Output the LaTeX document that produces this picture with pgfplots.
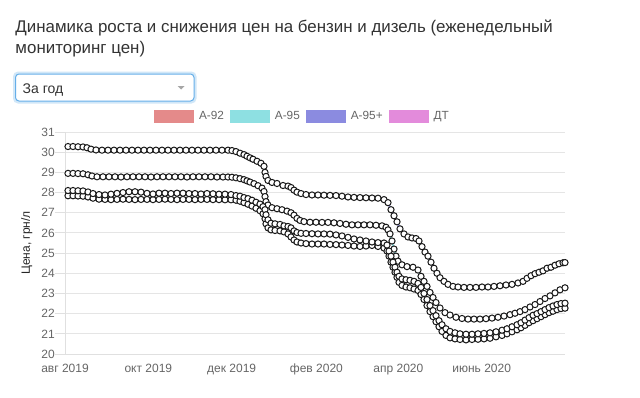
\documentclass[border=0pt]{standalone}
\usepackage{fontspec}
\setmainfont{Liberation Sans}
\usepackage{pgfplots}
\pgfplotsset{compat=1.18}
\definecolor{c92}{HTML}{E48A8A}
\definecolor{c95}{HTML}{8EE0E2}
\definecolor{c95p}{HTML}{8B8BE0}
\definecolor{cdt}{HTML}{E38BDB}
\definecolor{tgray}{HTML}{666666}
\definecolor{tdark}{HTML}{333333}
\definecolor{focus}{HTML}{66AFE9}
\begin{document}
\begin{tikzpicture}[x=1bp,y=1bp]
\path[use as bounding box] (0,0) rectangle (640,397);
\fill[white] (0,0) rectangle (640,397);
% title
\node[anchor=base west, inner sep=0, text=tdark, font=\fontsize{16.9bp}{19bp}\selectfont] at (15.3,364.5) {Динамика роста и снижения цен на бензин и дизель (еженедельный};
\node[anchor=base west, inner sep=0, text=tdark, font=\fontsize{16.9bp}{19bp}\selectfont] at (15.3,343.5) {мониторинг цен)};
% dropdown
\fill[focus!30, rounded corners=5bp] (13,293.5) rectangle (196.5,325.5);
\filldraw[fill=white, draw=focus, line width=1bp, rounded corners=3.5bp] (15.5,296) rectangle (194,323);
\node[anchor=base west, inner sep=0, text=tdark, font=\fontsize{14bp}{16bp}\selectfont] at (22.5,304) {За год};
\fill[black!35] (177.5,311) -- (184.5,311) -- (181,307.5) -- cycle;
\begin{axis}[
  at={(65bp,43bp)}, anchor=south west,
  scale only axis, width=500bp, height=222bp,
  xmin=65, xmax=565, ymin=20, ymax=31,
  clip=false,
  axis lines*=left,
  axis line style={-, draw=black!12, line width=1bp},
  ymajorgrids, grid style={draw=black!10, line width=1bp},
  ytick={20,21,...,31},
  tick align=outside,
  ytick style={draw=black!12, line width=1bp},
  major tick length=10bp,
  xtick={65,148.33,231.67,316.39,398.36,481.69},
  xticklabels={авг 2019,окт 2019,дек 2019,фев 2020,апр 2020,июнь 2020},
  xtick style={draw=none},
  xticklabel style={font=\fontsize{12bp}{14bp}\selectfont, text=tgray, anchor=north, inner sep=0pt, yshift=0.5bp},
  yticklabel style={font=\fontsize{12bp}{14bp}\selectfont, text=tgray, inner sep=0pt, anchor=east},
  /pgf/number format/assume math mode=true,
  ylabel={Цена, грн/л},
  ylabel style={at={(axis description cs:-0.0766,0.5)}, anchor=center, font=\fontsize{12bp}{14bp}\selectfont, text=black!85},
  legend columns=4,
  legend image code/.code={\fill[draw=none] (0bp,-6.5bp) rectangle (40bp,6.5bp);},
  legend style={at={(0.178,1.0698)}, anchor=west, draw=none, fill=none, inner sep=0pt, outer sep=0pt,
    font=\fontsize{11.8bp}{13bp}\selectfont, text=tgray,
    nodes={inner sep=0pt},
    /tikz/every odd column/.append style={column sep=5bp},
    /tikz/every even column/.append style={column sep=6bp}},
  every axis plot/.append style={line width=1.8bp, mark=*, mark size=3.1bp, mark options={solid, fill=white, draw=black!90, line width=1bp}},
]
\addplot[color=c92] table {
68 27.84
73 27.84
78 27.83
83 27.82
88 27.78
93 27.72
99 27.67
105 27.66
111 27.65
117 27.66
123 27.67
129 27.66
135 27.65
141 27.66
147 27.66
153 27.65
159 27.66
165 27.67
171 27.66
177 27.65
183 27.66
189 27.66
195 27.65
201 27.66
207 27.66
213 27.65
219 27.65
225 27.64
231 27.64
236 27.62
240 27.57
244 27.5
248 27.42
252 27.33
256 27.22
260 27.1
263 26.95
265 26.7
266 26.45
268 26.25
271 26.15
275 26.12
280 26.1
284 26.05
288 25.95
291 25.8
294 25.65
297 25.55
301 25.5
306 25.47
312 25.45
318 25.45
324 25.45
330 25.43
336 25.42
342 25.4
348 25.38
354 25.35
360 25.33
366 25.35
372 25.38
378 25.33
384 25.25
387 25.1
389 24.85
391 24.55
393 24.3
395 24.05
397 23.8
399 23.55
402 23.4
406 23.32
410 23.28
414 23.22
418 23.15
421 22.95
424 22.7
427 22.4
430 22.1
433 21.85
436 21.6
439 21.35
442 21.12
446 20.92
450 20.8
455 20.75
460 20.72
466 20.7
472 20.72
478 20.73
484 20.75
490 20.78
496 20.85
502 20.92
507 21.0
512 21.1
517 21.2
521 21.3
525 21.42
529 21.55
533 21.65
537 21.75
541 21.85
545 21.95
549 22.05
553 22.12
557 22.2
561 22.25
565 22.27
};
\addlegendentry{А-92}
\addplot[color=c95] table {
68 28.95
73 28.95
78 28.94
83 28.93
88 28.88
92 28.82
97 28.78
103 28.78
109 28.78
115 28.78
121 28.77
127 28.78
133 28.78
139 28.78
145 28.78
151 28.77
157 28.78
163 28.78
169 28.78
175 28.78
181 28.78
187 28.77
193 28.78
199 28.78
205 28.78
211 28.78
217 28.77
223 28.77
228 28.77
232 28.76
236 28.73
240 28.69
244 28.64
247 28.58
250 28.52
254 28.44
258 28.34
262 28.22
264 28.05
265 27.8
266 27.55
268 27.38
272 27.25
277 27.2
282 27.15
287 27.08
291 27.0
294 26.88
297 26.72
300 26.62
304 26.56
310 26.53
316 26.53
322 26.52
328 26.52
334 26.5
340 26.47
346 26.43
352 26.4
358 26.4
364 26.4
370 26.4
376 26.38
382 26.35
386 26.28
388 26.15
390 25.95
392 25.6
394 25.2
396 24.85
398 24.6
402 24.42
407 24.33
413 24.3
418 24.16
421 23.85
424 23.6
427 23.35
430 23.05
433 22.8
436 22.55
440 22.28
445 22.05
450 21.93
456 21.82
462 21.76
468 21.73
474 21.73
480 21.73
486 21.75
492 21.78
498 21.82
504 21.88
510 21.95
515 22.02
520 22.1
525 22.2
530 22.33
535 22.45
540 22.6
545 22.75
550 22.88
555 23.03
560 23.18
565 23.28
};
\addlegendentry{А-95}
\addplot[color=c95p] table {
68 30.28
73 30.28
78 30.27
83 30.26
87 30.22
91 30.15
96 30.11
102 30.1
108 30.1
114 30.1
120 30.1
126 30.1
132 30.1
138 30.1
144 30.1
150 30.1
156 30.1
162 30.1
168 30.1
174 30.1
180 30.1
186 30.1
192 30.1
198 30.1
204 30.1
210 30.1
216 30.1
222 30.1
228 30.1
232 30.08
236 30.03
240 29.95
244 29.88
247 29.8
250 29.72
253 29.65
257 29.55
261 29.45
264 29.3
265 29.0
266 28.8
268 28.6
272 28.5
277 28.45
283 28.35
288 28.32
291 28.25
294 28.12
297 28.02
301 27.95
306 27.9
312 27.88
318 27.88
324 27.87
330 27.86
336 27.85
342 27.82
348 27.78
354 27.76
360 27.75
366 27.74
372 27.73
378 27.72
384 27.65
388 27.5
391 27.15
394 26.85
397 26.55
400 26.2
404 25.95
408 25.8
412 25.75
416 25.72
419 25.6
422 25.32
425 25.05
428 24.85
431 24.55
434 24.25
437 24.0
440 23.78
444 23.6
448 23.45
453 23.35
458 23.32
464 23.3
470 23.3
476 23.3
482 23.32
488 23.32
494 23.35
500 23.38
506 23.42
512 23.45
518 23.52
523 23.6
527 23.75
531 23.88
535 23.98
539 24.05
543 24.12
547 24.25
551 24.3
555 24.4
559 24.47
563 24.52
565 24.53
};
\addlegendentry{А-95+}
\addplot[color=cdt] table {
68 28.1
73 28.1
78 28.09
83 28.08
88 28.03
93 27.95
99 27.9
105 27.88
111 27.92
117 27.96
123 28.0
129 28.04
135 28.04
141 28.02
147 27.96
153 27.93
159 27.97
165 27.97
171 27.95
177 27.97
183 27.97
189 27.95
195 27.95
201 27.93
207 27.95
213 27.94
219 27.92
225 27.92
231 27.9
236 27.85
240 27.82
244 27.75
248 27.7
252 27.62
256 27.52
260 27.43
263 27.3
265 27.15
266 26.9
268 26.65
271 26.48
275 26.45
280 26.42
284 26.35
288 26.32
291 26.25
294 26.1
297 26.02
301 25.98
306 25.97
312 25.96
318 25.95
324 25.95
330 25.94
336 25.9
342 25.85
348 25.78
354 25.7
360 25.65
366 25.6
372 25.55
378 25.52
384 25.5
387 25.4
389 25.1
391 24.85
393 24.55
395 24.3
397 24.05
399 23.85
402 23.72
406 23.68
410 23.65
414 23.6
418 23.5
421 23.3
424 23.0
427 22.7
430 22.4
433 22.15
436 21.9
439 21.65
442 21.45
446 21.25
450 21.12
455 21.05
460 21.0
466 20.98
472 20.98
478 21.0
484 21.02
490 21.05
496 21.1
502 21.18
507 21.25
512 21.35
517 21.45
521 21.55
525 21.68
529 21.8
533 21.92
537 22.0
541 22.1
545 22.2
549 22.3
553 22.38
557 22.45
561 22.5
565 22.52
};
\addlegendentry{ДТ}
\end{axis}
\end{tikzpicture}
\end{document}
